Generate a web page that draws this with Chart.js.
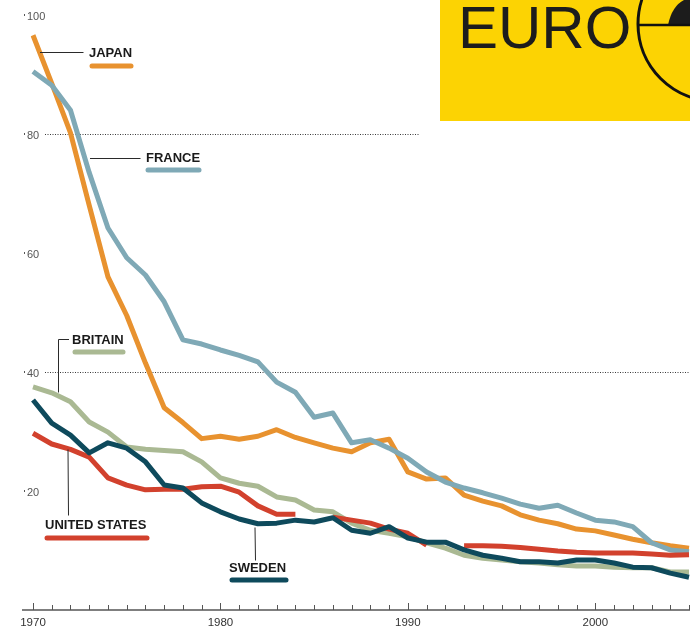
<!DOCTYPE html>
<html>
<head>
<meta charset="utf-8">
<script src="https://cdn.jsdelivr.net/npm/chart.js@4"></script>
<style>
  html, body { margin: 0; padding: 0; background: #fff; }
  #wrap { width: 690px; height: 628px; }
</style>
</head>
<body>
<div id="wrap"><canvas id="chart" width="690" height="628"></canvas></div>
<script>
// Years on the x axis
const years = ['1970','1971','1972','1973','1974','1975','1976','1977','1978','1979',
               '1980','1981','1982','1983','1984','1985','1986','1987','1988','1989',
               '1990','1991','1992','1993','1994','1995','1996','1997','1998','1999',
               '2000','2001','2002','2003','2004','2005'];

// Series values
const japan   = [96.6, 88.5, 80.2, 68.0, 56.0, 49.5, 41.5, 34.0, 31.5, 28.8,
                 29.2, 28.7, 29.2, 30.3, 29.0, 28.1, 27.2, 26.6, 28.1, 28.7,
                 23.2, 22.0, 22.2, 19.3, 18.3, 17.5, 16.0, 15.1, 14.5, 13.6,
                 13.3, 12.6, 11.9, 11.3, 10.8, 10.4];
const france  = [90.5, 88.2, 84.0, 73.5, 64.2, 59.2, 56.3, 51.8, 45.4, 44.7,
                 43.7, 42.8, 41.7, 38.3, 36.6, 32.4, 33.1, 28.1, 28.6, 27.2,
                 25.5, 23.2, 21.5, 20.5, 19.7, 18.8, 17.8, 17.1, 17.6, 16.3,
                 15.1, 14.8, 14.0, 11.3, 10.1, 9.8];
const britain = [37.5, 36.5, 35.0, 31.6, 29.9, 27.4, 27.0, 26.8, 26.6, 24.9,
                 22.2, 21.3, 20.8, 19.0, 18.5, 16.8, 16.5, 14.6, 13.4, 12.9,
                 12.3, 11.3, 10.4, 9.2, 8.7, 8.4, 8.1, 7.9, 7.6, 7.4,
                 7.4, 7.2, 7.1, 7.1, 6.4, 6.4];
const sweden  = [35.3, 31.4, 29.4, 26.4, 28.1, 27.2, 24.9, 21.0, 20.5, 18.0,
                 16.5, 15.3, 14.5, 14.6, 15.1, 14.8, 15.5, 13.4, 12.9, 14.0,
                 12.1, 11.4, 11.4, 10.1, 9.2, 8.7, 8.1, 8.1, 7.9, 8.4,
                 8.4, 7.9, 7.2, 7.1, 6.2, 5.5];
const unitedStates = [29.7, 27.9, 27.0, 25.7, 22.2, 21.0, 20.2, 20.3, 20.3, 20.7,
                 20.8, 19.8, 17.5, 16.1, 16.1, null, 15.6, 15.1, 14.6, 13.6,
                 12.9, 10.9, null, 10.8, 10.8, 10.7, 10.5, 10.2, 9.9, 9.7,
                 9.6, 9.6, 9.6, 9.4, 9.2, 9.3];

// Axis ticks
const yTicks = [100, 80, 60, 40, 20];
const dottedLines = [80, 40];
const xLabelYears = ['1970', '1980', '1990', '2000'];

const colors = {
    japan: '#e8922f',
    france: '#7fa9b6',
    britain: '#aab993',
    sweden: '#0e4a5c',
    us: '#d2412d'
};

// Series name labels with their leader lines (pixel layout)
const nameLabels = [
    { text: 'JAPAN', x: 89, y: 53, color: colors.japan, sw: [92, 131, 66], leader: [[40, 52], [83, 52]] },
    { text: 'FRANCE', x: 146, y: 158, color: colors.france, sw: [148, 199, 170], leader: [[90, 158], [140, 158]] },
    { text: 'BRITAIN', x: 72, y: 340, color: colors.britain, sw: [75, 123, 352], leader: [[69, 339], [58, 339], [58, 392]] },
    { text: 'UNITED STATES', x: 45, y: 525, color: colors.us, sw: [47, 147, 538], leader: [[68, 449], [68, 515]] },
    { text: 'SWEDEN', x: 229, y: 568, color: colors.sweden, sw: [232, 286, 580], leader: [[255, 527], [255, 560]] }
];

const decorations = {
    id: 'decorations',
    beforeDatasetsDraw(chart) {
        const ctx = chart.ctx;
        const y = chart.scales.y;
        const x = chart.scales.x;
        ctx.save();
        // dotted reference lines
        ctx.strokeStyle = '#3a3a3a';
        ctx.lineWidth = 1;
        ctx.setLineDash([1, 1.5]);
        dottedLines.forEach(v => {
            const py = Math.round(y.getPixelForValue(v)) + 0.5;
            ctx.beginPath();
            ctx.moveTo(45, py);
            ctx.lineTo(v === 80 ? 420 : 690, py);
            ctx.stroke();
        });
        ctx.setLineDash([]);

        // y tick labels
        ctx.font = '11px "Liberation Sans", Arial, sans-serif';
        ctx.fillStyle = '#555';
        ctx.textAlign = 'left';
        ctx.textBaseline = 'middle';
        yTicks.forEach(v => {
            const py = y.getPixelForValue(v);
            ctx.fillRect(24, py - 1, 1, 2);
            ctx.fillText(String(v), 27, py + 2);
        });

        // x axis line and tick marks
        const base = chart.chartArea.bottom;
        ctx.strokeStyle = '#555';
        ctx.lineWidth = 1.5;
        ctx.beginPath();
        ctx.moveTo(22, base);
        ctx.lineTo(690, base);
        ctx.stroke();
        ctx.lineWidth = 1;
        years.forEach((yr, i) => {
            const px = Math.round(x.getPixelForValue(i)) + 0.5;
            const len = xLabelYears.includes(yr) ? 7 : 5;
            ctx.beginPath();
            ctx.moveTo(px, base);
            ctx.lineTo(px, base - len);
            ctx.stroke();
        });
        ctx.restore();
    },
    afterDatasetsDraw(chart) {
        const ctx = chart.ctx;
        ctx.save();
        nameLabels.forEach(l => {
            // leader line
            ctx.strokeStyle = '#2a2a2a';
            ctx.lineWidth = 1;
            ctx.beginPath();
            l.leader.forEach((p, i) => {
                if (i === 0) ctx.moveTo(p[0], p[1] + 0.5);
                else ctx.lineTo(p[0] + 0.5, p[1] + 0.5);
            });
            ctx.stroke();
            // name
            ctx.font = 'bold 13px "Liberation Sans", Arial, sans-serif';
            ctx.fillStyle = '#1a1a1a';
            ctx.textAlign = 'left';
            ctx.textBaseline = 'middle';
            ctx.fillText(l.text, l.x, l.y);
            // colour swatch
            ctx.strokeStyle = l.color;
            ctx.lineWidth = 5;
            ctx.lineCap = 'round';
            ctx.beginPath();
            ctx.moveTo(l.sw[0], l.sw[2]);
            ctx.lineTo(l.sw[1], l.sw[2]);
            ctx.stroke();
            ctx.lineCap = 'butt';
        });
        ctx.restore();
    },
    afterDraw(chart) {
        // partly visible logo box, top right
        const ctx = chart.ctx;
        ctx.save();
        ctx.beginPath();
        ctx.rect(440, 0, 250, 121);
        ctx.clip();
        ctx.fillStyle = '#fcd303';
        ctx.fillRect(440, 0, 250, 121);
        ctx.fillStyle = '#1c1c1c';
        ctx.font = '60px "Liberation Sans", Arial, sans-serif';
        ctx.textAlign = 'left';
        ctx.textBaseline = 'alphabetic';
        ctx.fillText('EURO', 458, 48);
        // circle emblem
        ctx.beginPath();
        ctx.moveTo(668, 25);
        ctx.quadraticCurveTo(672, 6, 684, 0);
        ctx.lineTo(720, 0);
        ctx.lineTo(720, 25);
        ctx.closePath();
        ctx.fill();
        ctx.strokeStyle = '#111';
        ctx.lineWidth = 3;
        ctx.beginPath();
        ctx.arc(715, 24, 77, 0, Math.PI * 2);
        ctx.stroke();
        ctx.lineWidth = 2.5;
        ctx.beginPath();
        ctx.moveTo(638, 25);
        ctx.lineTo(715, 25);
        ctx.stroke();
        ctx.restore();
    }
};

function series(values, color, order) {
    return {
        data: values,
        borderColor: color,
        backgroundColor: color,
        borderWidth: 5,
        pointRadius: 0,
        tension: 0,
        spanGaps: false,
        borderJoinStyle: 'round',
        order: order
    };
}

const ctx = document.getElementById('chart').getContext('2d');
new Chart(ctx, {
    type: 'line',
    data: {
        labels: years,
        datasets: [
            series(japan, colors.japan, 4),
            series(france, colors.france, 3),
            series(britain, colors.britain, 2),
            series(unitedStates, colors.us, 1),
            series(sweden, colors.sweden, 0)
        ]
    },
    options: {
        responsive: false,
        animation: false,
        layout: { padding: { left: 33, right: 1, top: 15, bottom: 0 } },
        plugins: {
            legend: { display: false },
            tooltip: { enabled: false }
        },
        scales: {
            x: {
                type: 'category',
                offset: false,
                border: { display: false },
                grid: { display: false, drawTicks: false },
                ticks: {
                    autoSkip: false,
                    maxRotation: 0,
                    padding: 6,
                    color: '#333',
                    font: { family: '"Liberation Sans", Arial, sans-serif', size: 11.5 },
                    callback: function(value) {
                        const yr = years[value];
                        return xLabelYears.includes(yr) ? yr : '';
                    }
                },
                afterFit: function(scale) {
                    scale.height = 18;
                    scale.paddingLeft = 0;
                    scale.paddingRight = 0;
                }
            },
            y: {
                display: false,
                min: 0,
                max: 100
            }
        }
    },
    plugins: [decorations]
});
</script>
</body>
</html>
